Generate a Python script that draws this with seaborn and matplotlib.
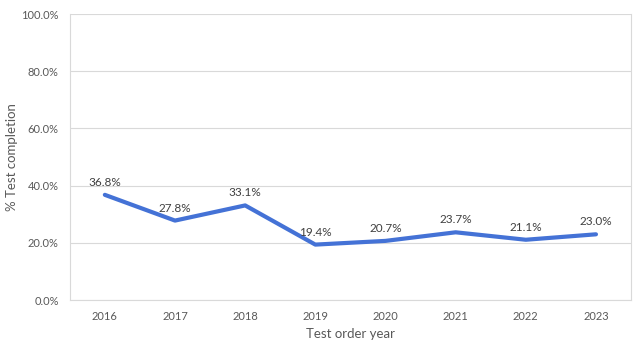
import numpy as np
import pandas as pd
import matplotlib
matplotlib.use('Agg')
import matplotlib.pyplot as plt
import seaborn as sns
from matplotlib.ticker import FuncFormatter

years = ['2016', '2017', '2018', '2019', '2020', '2021', '2022', '2023']
completion = [36.8, 27.8, 33.1, 19.4, 20.7, 23.7, 21.1, 23.0]

sns.set_theme(style='white')
plt.rcParams['font.family'] = ['Lato', 'DejaVu Sans']
text_color = '#595959'
grid_color = '#d9d9d9'

df = pd.DataFrame({'year': years, 'pct': completion})

fig = plt.figure(figsize=(6.4, 3.51), dpi=100)
ax = fig.add_axes([0.109, 0.145, 0.877, 0.815])

sns.lineplot(data=df, x='year', y='pct', ax=ax, color='#4472D6',
             linewidth=3, sort=False)

for i, v in enumerate(completion):
    ax.annotate(f'{v:.1f}%', (i, v), xytext=(0, 5), textcoords='offset points',
                ha='center', va='bottom', fontsize=8.5, color='#404040')

ax.set_xlim(-0.5, len(years) - 0.5)
ax.set_ylim(0, 100)
ax.set_yticks(np.arange(0, 101, 20))
ax.yaxis.set_major_formatter(FuncFormatter(lambda v, p: f'{v:.1f}%'))
ax.grid(axis='y', color=grid_color, linewidth=0.8)
ax.set_axisbelow(True)

for side in ['left', 'right', 'bottom', 'top']:
    ax.spines[side].set_color(grid_color)
    ax.spines[side].set_linewidth(0.8)
ax.spines['top'].set_visible(False)

ax.tick_params(axis='both', length=0, labelsize=8, colors=text_color, pad=8)
ax.set_xlabel('Test order year', fontsize=9.5, color=text_color, labelpad=4)
ax.set_ylabel('% Test completion', fontsize=9.5, color=text_color, labelpad=2)

fig.savefig('out.png', dpi=100)
plt.close(fig)
